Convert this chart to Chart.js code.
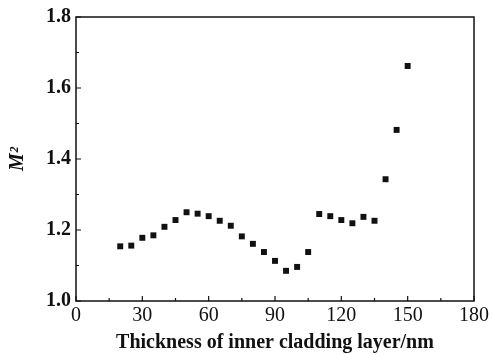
<!DOCTYPE html>
<html>
<head>
<meta charset="utf-8">
<script src="https://cdn.jsdelivr.net/npm/chart.js@4"></script>
<style>
  html, body { margin: 0; padding: 0; background: #fff; }
</style>
</head>
<body>
<canvas id="chart" width="492" height="355"></canvas>
<script>
// values
const thickness = [20, 25, 30, 35, 40, 45, 50, 55, 60, 65, 70, 75, 80, 85, 90, 95, 100, 105, 110, 115, 120, 125, 130, 135, 140, 145, 150];
const m2Values = [1.154, 1.156, 1.178, 1.185, 1.209, 1.228, 1.250, 1.246, 1.239, 1.226, 1.212, 1.182, 1.161, 1.138, 1.113, 1.085, 1.096, 1.138, 1.245, 1.239, 1.228, 1.219, 1.237, 1.226, 1.343, 1.482, 1.662];
const xTicks = [0, 30, 60, 90, 120, 150, 180];
const yTicks = [1.0, 1.2, 1.4, 1.6, 1.8];
const xMinor = [15, 45, 75, 105, 135, 165];
const yMinor = [1.1, 1.3, 1.5, 1.7];

const serif = "'Liberation Serif', 'DejaVu Serif', serif";

// box round the plot and inward ticks on the left and bottom axes
const frameTicks = {
  id: "frameTicks",
  afterDatasetsDraw(chart) {
    const { ctx, chartArea: a, scales } = chart;
    ctx.save();
    ctx.strokeStyle = "#111";
    ctx.lineWidth = 1.5;
    ctx.strokeRect(a.left, a.top, a.right - a.left, a.bottom - a.top);
    ctx.lineWidth = 1.2;
    ctx.beginPath();
    xTicks.forEach(v => {
      const x = scales.x.getPixelForValue(v);
      ctx.moveTo(x, a.bottom); ctx.lineTo(x, a.bottom - 5);
    });
    xMinor.forEach(v => {
      const x = scales.x.getPixelForValue(v);
      ctx.moveTo(x, a.bottom); ctx.lineTo(x, a.bottom - 3);
    });
    yTicks.forEach(v => {
      const y = scales.y.getPixelForValue(v);
      ctx.moveTo(a.left, y); ctx.lineTo(a.left + 5, y);
    });
    yMinor.forEach(v => {
      const y = scales.y.getPixelForValue(v);
      ctx.moveTo(a.left, y); ctx.lineTo(a.left + 3, y);
    });
    ctx.stroke();
    ctx.restore();
  }
};

new Chart(document.getElementById("chart"), {
  type: "scatter",
  data: {
    datasets: [{
      data: thickness.map((t, i) => ({ x: t, y: m2Values[i] })),
      pointStyle: "rect",
      radius: 4.2,
      hoverRadius: 4.2,
      backgroundColor: "#111",
      borderWidth: 0
    }]
  },
  options: {
    responsive: false,
    devicePixelRatio: 1,
    animation: false,
    layout: { padding: { top: 16, right: 17, left: 0, bottom: 0 } },
    plugins: { legend: { display: false }, tooltip: { enabled: false } },
    scales: {
      x: {
        type: "linear",
        min: 0, max: 180,
        afterBuildTicks: s => { s.ticks = xTicks.map(v => ({ value: v })); },
        afterFit: s => { s.height = 54; },
        grid: { display: false, drawTicks: false },
        border: { display: false },
        ticks: { color: "#111", padding: 3, maxRotation: 0, font: { family: serif, size: 20 } },
        title: {
          display: true,
          text: "Thickness of inner cladding layer/nm",
          color: "#111",
          padding: { top: 3, bottom: 0 },
          font: { family: serif, size: 20, weight: "bold" }
        }
      },
      y: {
        min: 1.0, max: 1.8,
        afterBuildTicks: s => { s.ticks = yTicks.map(v => ({ value: v })); },
        afterFit: s => { s.width = 76; },
        grid: { display: false, drawTicks: false },
        border: { display: false },
        ticks: {
          color: "#111", padding: 5,
          font: { family: serif, size: 20, weight: "bold" },
          callback: v => v.toFixed(1)
        },
        title: {
          display: true,
          text: "M²",
          color: "#111",
          padding: { top: 6, bottom: 0 },
          font: { family: serif, size: 20, weight: "bold", style: "italic" }
        }
      }
    }
  },
  plugins: [frameTicks]
});
</script>
</body>
</html>
